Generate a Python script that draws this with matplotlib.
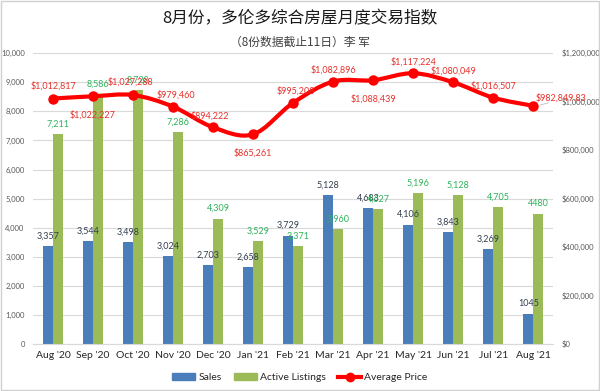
import matplotlib
matplotlib.use('Agg')
import matplotlib.pyplot as plt
from matplotlib.path import Path
from matplotlib.patches import PathPatch, Rectangle
from matplotlib.lines import Line2D
from matplotlib.ticker import FuncFormatter
import numpy as np

plt.rcParams['font.family'] = ['Lato', 'Noto Sans CJK SC', 'DejaVu Sans']

months = ["Aug '20", "Sep '20", "Oct '20", "Nov '20", "Dec '20", "Jan '21", "Feb '21",
          "Mar '21", "Apr '21", "May '21", "Jun '21", "Jul '21", "Aug '21"]
sales = [3357, 3544, 3498, 3024, 2703, 2658, 3729, 5128, 4683, 4106, 3843, 3269, 1045]
active = [7211, 8586, 8728, 7286, 4309, 3529, 3371, 3960, 4627, 5196, 5128, 4705, 4480]
avg_price = [1012817, 1022227, 1027288, 979460, 894222, 865261, 995208, 1082896,
             1088439, 1117224, 1080049, 1016507, 982849.83]
sales_text = ["3,357", "3,544", "3,498", "3,024", "2,703", "2,658", "3,729", "5,128",
              "4,683", "4,106", "3,843", "3,269", "1045"]
active_text = ["7,211", "8,586", "8,728", "7,286", "4,309", "3,529", "3,371", "3,960",
               "4,627", "5,196", "5,128", "4,705", "4480"]
price_text = ["$1,012,817", "$1,022,227", "$1,027,288", "$979,460", "$894,222", "$865,261",
              "$995,208", "$1,082,896", "$1,088,439", "$1,117,224", "$1,080,049",
              "$1,016,507", "$982,849.83"]
# label offsets (points) for price labels
price_off = [(0, 6), (0, -10), (-2, 6), (2, 5), (-2, 5), (0, -10), (2, 5), (0, 5),
             (0, -10), (0, 5), (0, 5), (0, 5), (20, 2)]

BLUE = '#4a7ebb'
GREEN = '#9bbb59'
RED = '#ff0000'

fig = plt.figure(figsize=(6.0, 3.91), dpi=100)
fig.patches.append(Rectangle((0.002, 0.002), 0.996, 0.996, transform=fig.transFigure,
                             fill=False, edgecolor='#d0d0d0', lw=1))
ax = fig.add_axes([0.055, 0.12, 0.867, 0.744])
ax2 = ax.twinx()

x = np.arange(len(months))
w = 0.245
ax.bar(x - w / 2, sales, w, color=BLUE, zorder=2)
ax.bar(x + w / 2, active, w, color=GREEN, zorder=2)
ax.set_ylim(0, 10000)
ax.set_xlim(-0.5, len(months) - 0.5)
ax.set_yticks(np.arange(0, 10001, 1000))
ax.yaxis.set_major_formatter(FuncFormatter(lambda v, p: f"{int(v):,}"))
ax.grid(axis='y', color='#d9d9d9', lw=0.8, zorder=0)
ax.set_axisbelow(True)
for s in ['top', 'right', 'left']:
    ax.spines[s].set_visible(False)
ax.spines['bottom'].set_color('#d9d9d9')
ax.tick_params(axis='y', length=0, labelsize=5.5, labelcolor='#595959', pad=6)
ax.set_xticks(x)
ax.set_xticklabels(months, fontsize=7.5, color='#262626')
ax.tick_params(axis='x', length=0, pad=5)

for i in range(len(x)):
    ax.annotate(sales_text[i], (x[i] - w / 2, sales[i]), xytext=(0, 4),
                textcoords='offset points', ha='center', va='bottom', fontsize=6.5,
                color='#333f50', zorder=5)
    ax.annotate(active_text[i], (x[i] + w / 2, active[i]), xytext=(0, 4),
                textcoords='offset points', ha='center', va='bottom', fontsize=6.5,
                color='#2eb35a', zorder=5)

ax2.set_ylim(0, 1200000)
ax2.set_yticks(np.arange(0, 1200001, 200000))
ax2.yaxis.set_major_formatter(FuncFormatter(lambda v, p: f"${int(v):,}"))
ax2.tick_params(axis='y', length=0, labelsize=5.5, labelcolor='#595959', pad=6)
for s in ['top', 'right', 'left', 'bottom']:
    ax2.spines[s].set_visible(False)

# smooth line (Catmull-Rom as cubic Bezier)
P = np.column_stack([x, avg_price]).astype(float)
verts = [P[0]]
codes = [Path.MOVETO]
n = len(P)
for i in range(n - 1):
    p0 = P[i - 1] if i > 0 else P[i]
    p1 = P[i]
    p2 = P[i + 1]
    p3 = P[i + 2] if i + 2 < n else P[i + 1]
    c1 = p1 + (p2 - p0) / 6
    c2 = p2 - (p3 - p1) / 6
    verts += [c1, c2, p2]
    codes += [Path.CURVE4] * 3
ax2.add_patch(PathPatch(Path(verts, codes), fill=False, edgecolor=RED, lw=3,
                        zorder=3, capstyle='round', joinstyle='round'))
ax2.plot(x, avg_price, 'o', color=RED, ms=6.5, zorder=4)
for i in range(len(x)):
    dx, dy = price_off[i]
    ax2.annotate(price_text[i], (x[i], avg_price[i]), xytext=(dx, dy),
                 textcoords='offset points', ha='center',
                 va='bottom' if dy > 0 else 'top', fontsize=6.5, color='#e8302a', zorder=6)
ax2.annotate('', (x[-1] + 0.1, avg_price[-1]), xytext=(x[-1] + 0.45, avg_price[-1] + 15000),
             arrowprops=dict(arrowstyle='-', color='#bfbfbf', lw=0.6))

handles = [Rectangle((0, 0), 1, 1, color=BLUE), Rectangle((0, 0), 1, 1, color=GREEN),
           Line2D([0], [0], color=RED, lw=3, marker='o', ms=6)]
fig.legend(handles, ['Sales', 'Active Listings', 'Average Price'], loc='center',
           bbox_to_anchor=(0.5, 0.034), ncol=3, frameon=False, fontsize=7.5,
           handlelength=2.2, handleheight=0.7, columnspacing=1.2, handletextpad=0.3,
           labelcolor='#262626')

fig.text(0.5, 0.952, '8月份，多伦多综合房屋月度交易指数', ha='center', va='center',
         fontsize=12, color='#1a1a1a', family=['Noto Sans CJK SC', 'DejaVu Sans'])
fig.text(0.5, 0.893, '（8份数据截止11日）李 军', ha='center', va='center',
         fontsize=8.5, color='#404040', family=['Noto Sans CJK SC', 'DejaVu Sans'])

fig.savefig('out.png', dpi=100)
